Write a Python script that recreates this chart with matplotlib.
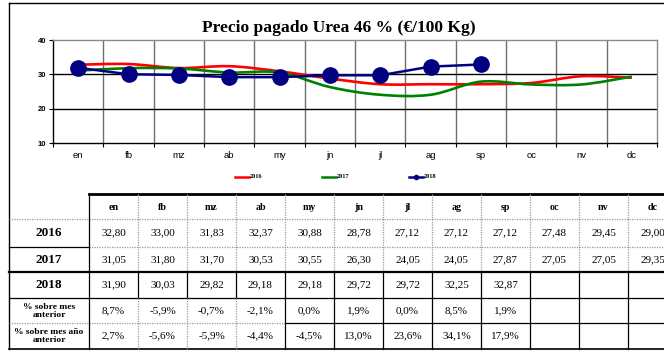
import matplotlib
matplotlib.use("Agg")
import matplotlib.pyplot as plt
from matplotlib.path import Path
from matplotlib.patches import PathPatch
from matplotlib.lines import Line2D
import numpy as np

# --- Datos ---
meses = ['en', 'fb', 'mz', 'ab', 'my', 'jn', 'jl', 'ag', 'sp', 'oc', 'nv', 'dc']
precio_2016 = [32.80, 33.00, 31.83, 32.37, 30.88, 28.78, 27.12, 27.12, 27.12, 27.48, 29.45, 29.00]
precio_2017 = [31.05, 31.80, 31.70, 30.53, 30.55, 26.30, 24.05, 24.05, 27.87, 27.05, 27.05, 29.35]
precio_2018 = [31.90, 30.03, 29.82, 29.18, 29.18, 29.72, 29.72, 32.25, 32.87]
pct_mes_anterior = [8.7, -5.9, -0.7, -2.1, 0.0, 1.9, 0.0, 8.5, 1.9]
pct_anio_anterior = [2.7, -5.6, -5.9, -4.4, -4.5, 13.0, 23.6, 34.1, 17.9]
y_ticks = [10, 20, 30, 40]

W, H = 664, 351
SERIF = 'Liberation Serif'
SANS = 'Liberation Sans'


def px(x, y):
    # coordenadas en pixeles (origen arriba a la izquierda) -> fraccion de figura
    return x / W, 1 - y / H


def hline(fig, x0, x1, y, **kw):
    a, b = px(x0, y)
    c, _ = px(x1, y)
    fig.add_artist(Line2D([a, c], [b, b], transform=fig.transFigure, **kw))


def vline(fig, x, y0, y1, **kw):
    a, b = px(x, y0)
    _, d = px(x, y1)
    fig.add_artist(Line2D([a, a], [b, d], transform=fig.transFigure, **kw))


def num(v, dec=2):
    return f"{v:.{dec}f}".replace('.', ',')


def smooth_path(xs, ys):
    # curva suavizada tipo Excel (Bezier por tramos)
    pts = np.column_stack([xs, ys])
    verts = [pts[0]]
    codes = [Path.MOVETO]
    n = len(pts)
    for i in range(n - 1):
        p0 = pts[max(i - 1, 0)]
        p1 = pts[i]
        p2 = pts[i + 1]
        p3 = pts[min(i + 2, n - 1)]
        c1 = p1 + (p2 - p0) / 6.0
        c2 = p2 - (p3 - p1) / 6.0
        verts += [c1, c2, p2]
        codes += [Path.CURVE4] * 3
    return Path(verts, codes)


fig = plt.figure(figsize=(W / 100, H / 100), dpi=100)

# --- Grafico ---
ax = fig.add_axes([53 / W, 1 - 143 / H, 604 / W, 103 / H])
x = np.arange(len(meses))
ax.set_xlim(-0.5, len(meses) - 0.5)
ax.set_ylim(10, 40)

for b in np.arange(0.5, len(meses) - 0.5, 1):
    ax.axvline(b, color='#6e6e6e', lw=1.0, zorder=1)
for v in [20, 30]:
    ax.axhline(v, color='black', lw=1.0, zorder=1)

ax.add_patch(PathPatch(smooth_path(x, precio_2016), fill=False, edgecolor='#ff0000', lw=1.9, zorder=3))
ax.add_patch(PathPatch(smooth_path(x, precio_2017), fill=False, edgecolor='#008000', lw=1.9, zorder=3))
ax.plot(x[:len(precio_2018)], precio_2018, color='#000080', lw=1.8, marker='o',
        markersize=11, markerfacecolor='#000080', markeredgecolor='#000080', zorder=4)

ax.set_yticks(y_ticks)
ax.set_yticklabels([str(t) for t in y_ticks], fontsize=5.5, fontweight='bold', family=SANS)
ax.tick_params(axis='y', length=3, width=0.8, pad=2)
ax.set_xticks(x)
ax.set_xticklabels(meses, fontsize=6.8, family=SANS)
ax.tick_params(axis='x', length=0, pad=6)
ax.set_xticks(np.arange(-0.5, len(meses), 1), minor=True)
ax.tick_params(axis='x', which='minor', length=3, width=0.8)

ax.spines['top'].set_color('#8a8a8a')
ax.spines['right'].set_color('#8a8a8a')
for s in ax.spines.values():
    s.set_linewidth(1.0)

fig.text(*px(339, 28), 'Precio pagado Urea 46 % (€/100 Kg)', family=SERIF,
         fontsize=12.6, fontweight='bold', ha='center', va='center')

# --- Leyenda ---
leyenda = [('2016', '#ff0000', 235), ('2017', '#008000', 322), ('2018', '#000080', 409)]
for lab, col, lx in leyenda:
    hline(fig, lx, lx + 14, 177, color=col, lw=1.8)
    if lab == '2018':
        fig.add_artist(Line2D([px(lx + 7, 0)[0]], [px(0, 177)[1]], transform=fig.transFigure,
                              marker='o', markersize=3, color=col))
    fig.text(*px(lx + 15, 177), lab, family=SERIF, fontsize=4.5, fontweight='bold',
             ha='left', va='center')

# --- Tabla ---
col_w = 49
x_tab = 89
bordes = [x_tab + i * col_w for i in range(len(meses) + 1)]
punteado = dict(color='#9a9a9a', lw=0.9, linestyle=(0, (1, 1)))
solido = dict(color='black', lw=0.9)

# marco exterior
vline(fig, 9, 3, 349, color='black', lw=1.0)
hline(fig, 9, W, 3, color='black', lw=1.0)

hline(fig, x_tab, W, 194, color='black', lw=2.0)
hline(fig, 9, W, 219, **punteado)
hline(fig, 9, x_tab, 247, **solido)
hline(fig, x_tab, W, 247, **punteado)
hline(fig, 9, W, 272, color='black', lw=1.6)
hline(fig, 9, W, 298, **solido)
hline(fig, 9, bordes[4], 323, **punteado)
hline(fig, bordes[4], W, 323, **solido)
hline(fig, 9, W, 349, color='black', lw=1.2)

vline(fig, x_tab, 194, 349, **solido)
for i, bx in enumerate(bordes[1:]):
    if bx > W:
        continue
    vline(fig, bx, 194, 272, **punteado)
    vline(fig, bx, 272, 298, **solido)
    if i < 3:
        vline(fig, bx, 298, 349, **punteado)
    else:
        vline(fig, bx, 298, 349, **solido)

centros = [x_tab + col_w * (i + 0.5) for i in range(len(meses))]
for cx, m in zip(centros, meses):
    fig.text(*px(cx, 207), m, family=SERIF, fontsize=7.2, fontweight='bold', ha='center', va='center')

etiquetas = [('2016', 233, 9.5), ('2017', 260, 9.5), ('2018', 285, 9.5),
             ('% sobre mes\nanterior', 311, 6.8), ('% sobre mes año\nanterior', 336, 6.8)]
for txt, ty, fs in etiquetas:
    fig.text(*px(49, ty), txt, family=SERIF, fontsize=fs, fontweight='bold',
             ha='center', va='center', linespacing=1.0)

for serie, ty in [(precio_2016, 233), (precio_2017, 260), (precio_2018, 285)]:
    for cx, v in zip(centros, serie):
        fig.text(*px(cx, ty), num(v), family=SERIF, fontsize=8, ha='center', va='center')
for serie, ty in [(pct_mes_anterior, 311), (pct_anio_anterior, 336)]:
    for cx, v in zip(centros, serie):
        fig.text(*px(cx, ty), num(v, 1) + '%', family=SERIF, fontsize=8, ha='center', va='center')

fig.savefig('out.png', dpi=100)
